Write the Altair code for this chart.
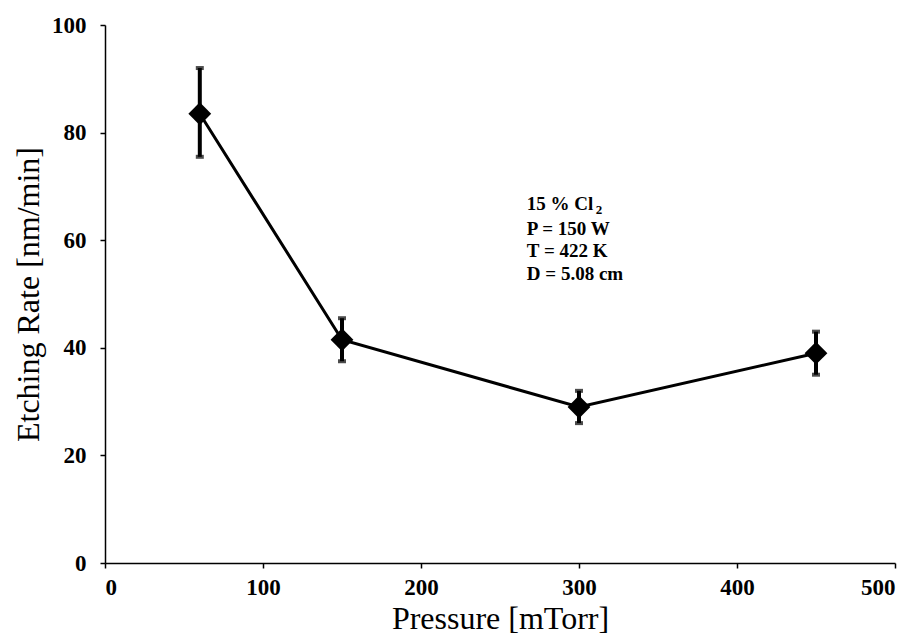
import altair as alt
import pandas as pd

pressure = [60, 150, 300, 450]
rate = [83.5, 41.5, 29, 39]
err_low = [75.5, 37.5, 26, 35]
err_high = [92, 45.5, 32, 43]

note_lines = ["15 %  Cl", "P = 150 W", "T = 422 K", "D = 5.08 cm"]
note_x = 267
note_y = [66.7, 62.1, 57.9, 53.7]

df = pd.DataFrame({"p": pressure, "r": rate, "lo": err_low, "hi": err_high})
notes = pd.DataFrame({"x": [note_x] * 4, "y": note_y, "t": note_lines})
sub = pd.DataFrame({"x": [note_x], "y": [note_y[0]], "t": ["2"]})

FONT = "Liberation Serif"

xs = alt.X("p:Q", scale=alt.Scale(domain=[0, 500], nice=False),
           axis=alt.Axis(title="Pressure [mTorr]", values=[0, 100, 200, 300, 400, 500],
                         format="d"))
ys = alt.Y("r:Q", scale=alt.Scale(domain=[0, 100], nice=False),
           axis=alt.Axis(title="Etching Rate [nm/min]", values=[0, 20, 40, 60, 80, 100],
                         format="d"))

line = alt.Chart(df).mark_line(color="black", strokeWidth=3).encode(x=xs, y=ys)
bars = alt.Chart(df).mark_rule(color="black", strokeWidth=4).encode(
    x="p:Q", y="lo:Q", y2="hi:Q")
cap_lo = alt.Chart(df).mark_tick(color="black", thickness=4, size=8, orient="horizontal").encode(
    x="p:Q", y="lo:Q")
cap_hi = alt.Chart(df).mark_tick(color="black", thickness=4, size=8, orient="horizontal").encode(
    x="p:Q", y="hi:Q")
pts = alt.Chart(df).mark_point(shape="diamond", filled=True, color="black", size=520, opacity=1).encode(
    x="p:Q", y="r:Q")

txt = alt.Chart(notes).mark_text(font=FONT, fontSize=19, fontWeight="bold", align="left",
                                 baseline="middle", color="black").encode(
    x="x:Q", y="y:Q", text="t:N")
subtxt = alt.Chart(sub).mark_text(font=FONT, fontSize=13, fontWeight="bold", align="left",
                                  baseline="middle", color="black", dx=69, dy=6).encode(
    x="x:Q", y="y:Q", text="t:N")

chart = alt.layer(line, bars, cap_lo, cap_hi, pts, txt, subtxt).properties(
    width=790, height=538,
    autosize=alt.AutoSizeParams(type="none"),
    padding={"left": 97, "top": 17, "right": 10, "bottom": 80},
).configure_view(stroke=None).configure_axis(
    grid=False, domainColor="black", domainWidth=1.5, tickColor="black", tickSize=5,
    tickWidth=1.5, labelFont=FONT, labelFontSize=23, labelFontWeight="bold",
    labelColor="black", titleFont=FONT, titleFontSize=32, titleFontWeight="normal",
    titleColor="black"
).configure_axisX(labelPadding=8, titlePadding=4).configure_axisY(
    labelPadding=14, titlePadding=6)

chart.save("out.html", embed_options={"renderer": "svg", "actions": False})
